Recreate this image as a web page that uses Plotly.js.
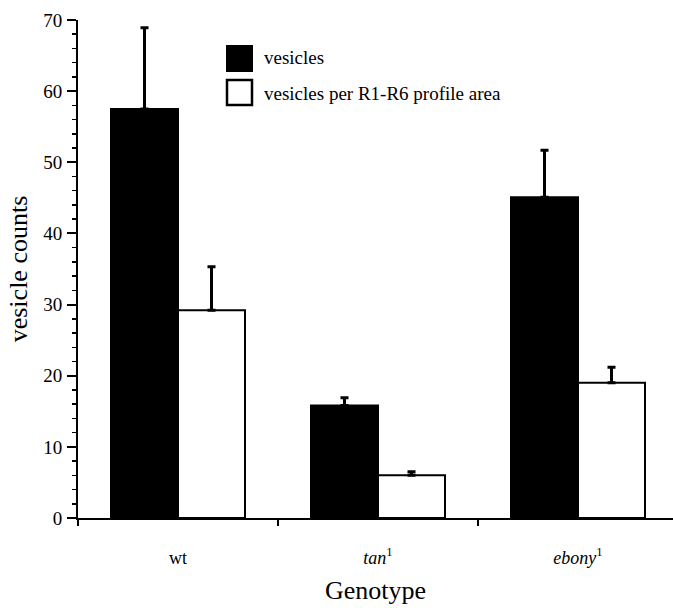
<!DOCTYPE html>
<html>
<head>
<meta charset="utf-8">
<script src="https://cdn.plot.ly/plotly-3.0.1.min.js"></script>
<style>html,body{margin:0;padding:0;background:#fff;}#chart{width:673px;height:608px;}</style>
</head>
<body>
<div id="chart"></div>
<script>
const genotypes = ['wt', 'tan1', 'ebony1'];
const genotypeLabels = ['wt', '<i>tan</i><sup>1</sup>', '<i>ebony</i><sup>1</sup>'];
const vesicles = [57.5, 15.8, 45.1];
const vesiclesErr = [11.4, 1.1, 6.6];
const perArea = [29.2, 6.0, 19.0];
const perAreaErr = [6.1, 0.5, 2.2];
const seriesNames = ['vesicles', 'vesicles per R1-R6 profile area'];
const yTicks = [0, 10, 20, 30, 40, 50, 60, 70];

const FONT = 'Liberation Serif, Times New Roman, serif';
const zeros = genotypes.map(() => 0);

const traces = [
  {
    type: 'bar', name: seriesNames[0], x: genotypes, y: vesicles,
    marker: {color: '#000', line: {color: '#000', width: 2}},
    error_y: {type: 'data', symmetric: false, array: vesiclesErr, arrayminus: zeros,
              color: '#000', thickness: 3, width: 4},
    showlegend: false, hoverinfo: 'skip'
  },
  {
    type: 'bar', name: seriesNames[1], x: genotypes, y: perArea,
    marker: {color: '#fff', line: {color: '#000', width: 2}},
    error_y: {type: 'data', symmetric: false, array: perAreaErr, arrayminus: zeros,
              color: '#000', thickness: 3, width: 4},
    showlegend: false, hoverinfo: 'skip'
  }
];

// manual legend (paper coords)
const L = 78, W = 595, T = 20, H = 498;
const px = v => (v - L) / W;
const py = v => (T + H - v) / H;

const layout = {
  width: 673, height: 608,
  margin: {l: L, r: 0, t: T, b: 608 - T - H},
  paper_bgcolor: '#fff', plot_bgcolor: '#fff',
  font: {family: FONT, color: '#000', size: 18},
  barmode: 'group', bargap: 0.33, bargroupgap: 0,
  xaxis: {
    type: 'category', range: [-0.5, 2.475],
    tickvals: genotypes, ticktext: genotypeLabels,
    tickson: 'boundaries', ticks: 'outside', ticklen: 6, tickwidth: 2, tickcolor: '#000',
    showline: true, linecolor: '#000', linewidth: 2, showgrid: false, zeroline: false,
    tickfont: {family: FONT, size: 18, color: '#000'},
    ticklabelstandoff: 22,
    title: {text: 'Genotype', font: {family: FONT, size: 26, color: '#000'}, standoff: 14}
  },
  yaxis: {
    range: [0, 70], tickvals: yTicks, ticks: 'outside', ticklen: 9, tickwidth: 2, tickcolor: '#000',
    minor: {dtick: 2, ticks: 'outside', ticklen: 4, tickwidth: 1.5, tickcolor: '#000', showgrid: false},
    showline: true, linecolor: '#000', linewidth: 2, showgrid: false, zeroline: false,
    tickfont: {family: FONT, size: 19, color: '#000'},
    ticklabelstandoff: 1,
    title: {text: 'vesicle counts', font: {family: FONT, size: 26, color: '#000'}, standoff: 8}
  },
  shapes: [
    {type: 'rect', xref: 'paper', yref: 'paper', x0: px(227), x1: px(252), y0: py(71), y1: py(46),
     fillcolor: '#000', line: {color: '#000', width: 2}},
    {type: 'rect', xref: 'paper', yref: 'paper', x0: px(227), x1: px(252), y0: py(105), y1: py(80),
     fillcolor: '#fff', line: {color: '#000', width: 2.5}}
  ],
  annotations: [
    {xref: 'paper', yref: 'paper', x: px(262), y: py(58), xanchor: 'left', yanchor: 'middle',
     text: seriesNames[0], showarrow: false, font: {family: FONT, size: 19, color: '#000'}},
    {xref: 'paper', yref: 'paper', x: px(262), y: py(93), xanchor: 'left', yanchor: 'middle',
     text: seriesNames[1], showarrow: false, font: {family: FONT, size: 19, color: '#000'}}
  ]
};

Plotly.newPlot('chart', traces, layout, {staticPlot: true, displayModeBar: false});
</script>
</body>
</html>
